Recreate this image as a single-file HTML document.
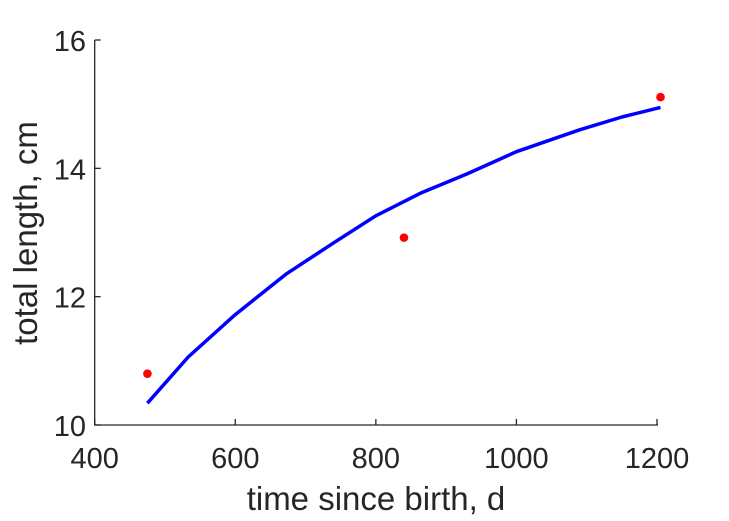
<!DOCTYPE html>
<html><head><meta charset="utf-8"><style>
html,body{margin:0;padding:0;background:#fff;}
svg{display:block;font-family:"Liberation Sans",Arial,sans-serif;}
</style></head><body>
<svg id="chart" width="729" height="521" viewBox="0 0 729 521" xmlns="http://www.w3.org/2000/svg">
<rect width="729" height="521" fill="#fff"/>
<g id="axes"></g>
<g id="marks"></g>
<text x="376" y="510" font-size="33" fill="#262626" text-anchor="middle">time since birth, d</text>
<text transform="translate(37,233) rotate(-90)" font-size="33" fill="#262626" text-anchor="middle">total length, cm</text>
</svg>
<script>
const xTicks = [400, 600, 800, 1000, 1200];
const yTicks = [10, 12, 14, 16];
const obsX = [475, 840, 1205];
const obsY = [10.80, 12.92, 15.11];
const fitX = [475, 533, 600, 672, 740, 800, 865, 929, 1000, 1090, 1150, 1205];
const fitY = [10.34, 11.06, 11.72, 12.35, 12.84, 13.26, 13.62, 13.91, 14.26, 14.60, 14.80, 14.95];

const X0 = 94.7, X1 = 657, Y0 = 425, Y1 = 40;
function sx(v){ return X0 + (v - 400) / 800 * (X1 - X0); }
function sy(v){ return Y0 - (v - 10) / 6 * (Y0 - Y1); }
const NS = "http://www.w3.org/2000/svg";
const axes = document.getElementById('axes');
const marks = document.getElementById('marks');
function mk(tag, attrs, parent){ const e = document.createElementNS(NS, tag); for (const k in attrs) e.setAttribute(k, attrs[k]); parent.appendChild(e); return e; }

let l = mk('line', {x1:X0, y1:Y1, x2:X0, y2:Y0+0.5, stroke:'#262626', 'stroke-width':1.3}, axes);


l = mk('line', {x1:X0, y1:Y0, x2:X1+1, y2:Y0, stroke:'#262626', 'stroke-width':1.3}, axes);



xTicks.forEach(v => {
  const x = sx(v);
  const t = mk('line', {x1:x, y1:Y0, x2:x, y2:Y0-6, stroke:'#262626', 'stroke-width':1.3}, axes);
  
  
  const tx = mk('text', {x:x, y:468, 'font-size':29, fill:'#262626', 'text-anchor':'middle'}, axes);
  tx.textContent = v;
  
  
});
yTicks.forEach(v => {
  const y = sy(v);
  const t = mk('line', {x1:X0, y1:y, x2:X0+6, y2:y, stroke:'#262626', 'stroke-width':1.3}, axes);
  
  
  const tx = mk('text', {x:86, y:y+11, 'font-size':29, fill:'#262626', 'text-anchor':'end'}, axes);
  tx.textContent = v;
  
  
});

let d = fitX.map((v,i) => (i ? 'L' : 'M') + sx(v).toFixed(1) + ' ' + sy(fitY[i]).toFixed(1)).join(' ');
const p = mk('path', {d:d, fill:'none', stroke:'#0000ff', 'stroke-width':3.5, 'stroke-linejoin':'round'}, marks);



obsX.forEach((v,i) => {
  const c = mk('circle', {cx:sx(v), cy:sy(obsY[i]), r:4.3, fill:'#ff0000'}, marks);
  
  
});
</script>
</body></html>
